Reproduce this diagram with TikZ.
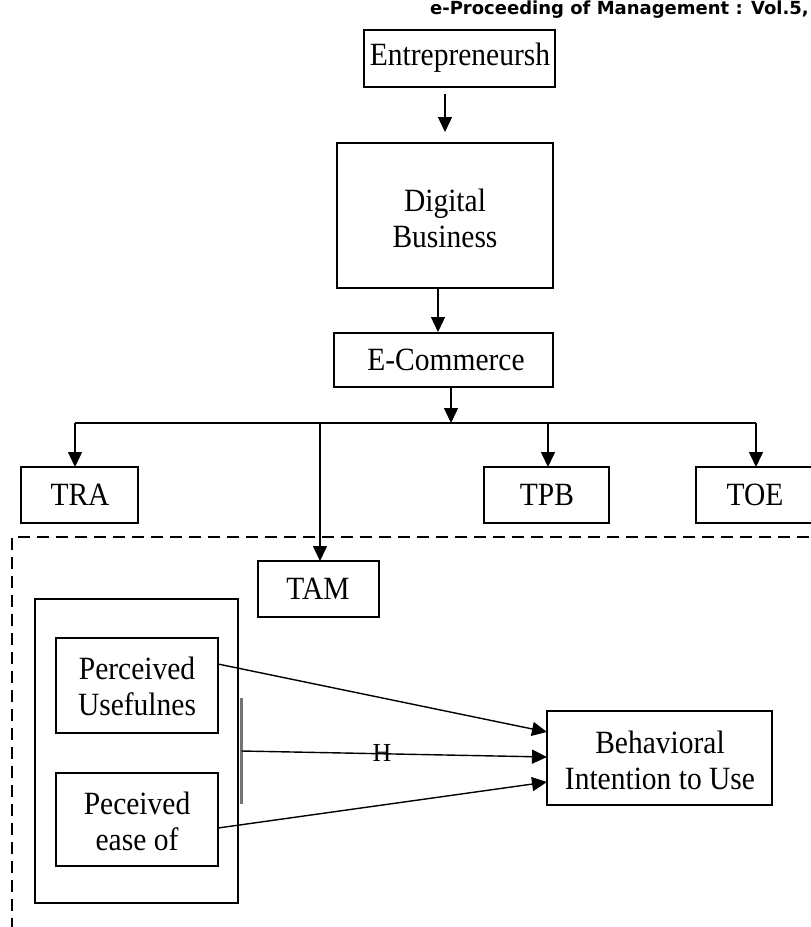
\documentclass[tikz,border=0pt]{standalone}
\usepackage{fontspec}
\setmainfont{Liberation Serif}
\newfontfamily\headfont{DejaVu Sans}
\usetikzlibrary{arrows.meta}
\newcommand\tallt[1]{\scalebox{1}[1.1]{#1}}
\begin{document}
\begin{tikzpicture}[x=1pt,y=-1pt,
  boxline/.style={draw=black,line width=1.4pt},
  lbl/.style={font=\fontsize{29.5}{36}\selectfont,align=center,inner sep=0pt},
  conn/.style={line width=1.4pt,-{Triangle[length=15pt,width=14pt]}},
  plain/.style={line width=1.4pt}]
\useasboundingbox (0,0) rectangle (811,927);
\begin{scope}
\clip (0,0) rectangle (811,927);
% header
\node[anchor=east,inner sep=0pt,font=\headfont\bfseries\fontsize{18}{20}\selectfont] (hdr) at (809,10) {e-Proceeding of Management : Vol.5,};
% boxes
\draw[boxline] (364,30) rectangle (555,87);
\node[lbl] (ent) at (460,58) {\tallt{Entrepreneursh}};
\coordinate (entb) at (445,94);
\coordinate (digt) at (445,132);
\draw[boxline] (337,143) rectangle (553,288);
\node[lbl] (dig) at (445,218) {\tallt{Digital}\\\tallt{Business}};
\coordinate (digb) at (438,288);
\coordinate (ecomt) at (438,332);
\draw[boxline] (334,333) rectangle (553,387);
\node[lbl] (ecom) at (446,360) {\tallt{E-Commerce}};
\coordinate (ecomb) at (451,387);
\coordinate (bus) at (451,423);
\coordinate (busl) at (75,423);
\coordinate (busr) at (756,423);
\coordinate (bustam) at (320,423);
\coordinate (bustpb) at (548,423);
% second row
\draw[boxline] (21,467) rectangle (138,523);
\node[lbl] (tra) at (80,495) {\tallt{TRA}};
\draw[boxline] (484,467) rectangle (609,523);
\node[lbl] (tpb) at (547,495) {\tallt{TPB}};
\draw[boxline] (696,467) rectangle (816,523);
\node[lbl] (toe) at (755,495) {\tallt{TOE}};
\coordinate (trat) at (75,467);
\coordinate (tpbt) at (548,467);
\coordinate (toet) at (756,467);
% dashed frame
\coordinate (dashbl) at (12,930);
\coordinate (dashtl) at (12,537);
\coordinate (dashtr) at (815,537);
\draw[line width=1.4pt,dash pattern=on 12pt off 7pt] (dashbl) -- (dashtl) -- (dashtr);
% TAM
\draw[boxline] (258,561) rectangle (379,617);
\node[lbl] (tam) at (318,589) {\tallt{TAM}};
\coordinate (tamt) at (320,561);
% outer box
\draw[boxline] (35,599) rectangle (238,903);
\draw[boxline] (56,638) rectangle (218,733);
\node[lbl] (pu) at (137,686) {\tallt{Perceived}\\\tallt{Usefulnes}};
\draw[boxline] (56,773) rectangle (218,866);
\node[lbl] (pe) at (137,821) {\tallt{Peceived}\\\tallt{ease of}};
\draw[line width=2.4pt,black!55] (241.5,698) -- (241.5,804);
% behavioural
\draw[boxline] (547,711) rectangle (772,805);
\node[lbl] (bi) at (660,760) {\tallt{Behavioral}\\\tallt{Intention to Use}};
\coordinate (pus) at (218,664);
\coordinate (mids) at (241.5,751);
\coordinate (pes) at (218,828);
\coordinate (bi1) at (547,732);
\coordinate (bi2) at (547,757);
\coordinate (bi3) at (547,782);
% connectors
\draw[conn] (entb) -- (digt);
\draw[conn] (digb) -- (ecomt);
\draw[conn] (ecomb) -- (bus);
\draw[plain] (busl) -- (busr);
\draw[conn] (busl) -- (trat);
\draw[conn] (bustpb) -- (tpbt);
\draw[conn] (busr) -- (toet);
\draw[conn] (bustam) -- (tamt);
\draw[conn] (pus) -- (bi1);
\draw[conn] (mids) -- (bi2);
\draw[conn] (pes) -- (bi3);
\node[font=\fontsize{26}{28}\selectfont,inner sep=0pt] (hlab) at (382,753) {H};
\end{scope}
\end{tikzpicture}
\end{document}
